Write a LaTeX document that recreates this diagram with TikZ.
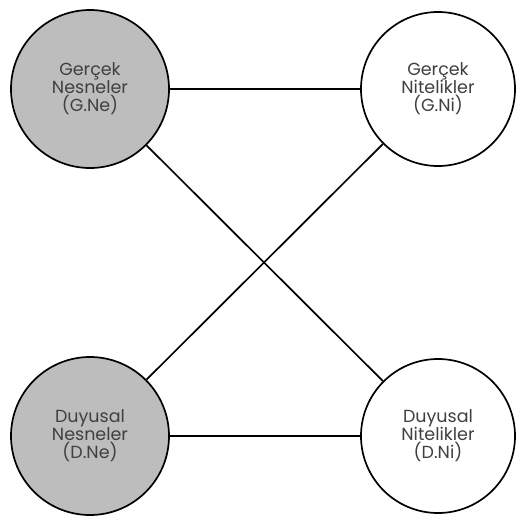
\documentclass[tikz,border=0pt]{standalone}
\usepackage{fontspec}
\setmainfont{Poppins}
\definecolor{txtgray}{HTML}{404040}
\definecolor{fillgray}{HTML}{BDBDBD}
\begin{document}
\begin{tikzpicture}[x=1pt,y=-1pt,
  circ/.style={circle, draw=black, line width=1.7pt, inner sep=0pt, align=center,
    font=\fontsize{17.5}{18}\selectfont, text=txtgray},
  filled/.style={circ, fill=fillgray},
  empty/.style={circ, fill=white},
  conn/.style={line width=1.7pt}]
\useasboundingbox (0,0) rectangle (515,519);
\node[filled, minimum size=158pt] (gne) at (90,89) {Gerçek\\Nesneler\\(G.Ne)};
\node[empty, minimum size=154pt] (gni) at (438,89) {Gerçek\\Nitelikler\\(G.Ni)};
\node[filled, minimum size=158pt] (dne) at (90,436) {Duyusal\\Nesneler\\(D.Ne)};
\node[empty, minimum size=154pt] (dni) at (438,436) {Duyusal\\Nitelikler\\(D.Ni)};
\draw[conn] (gne) -- (gni);
\draw[conn] (dne) -- (dni);
\draw[conn] (gne) -- (dni);
\draw[conn] (dne) -- (gni);
\end{tikzpicture}
\end{document}
